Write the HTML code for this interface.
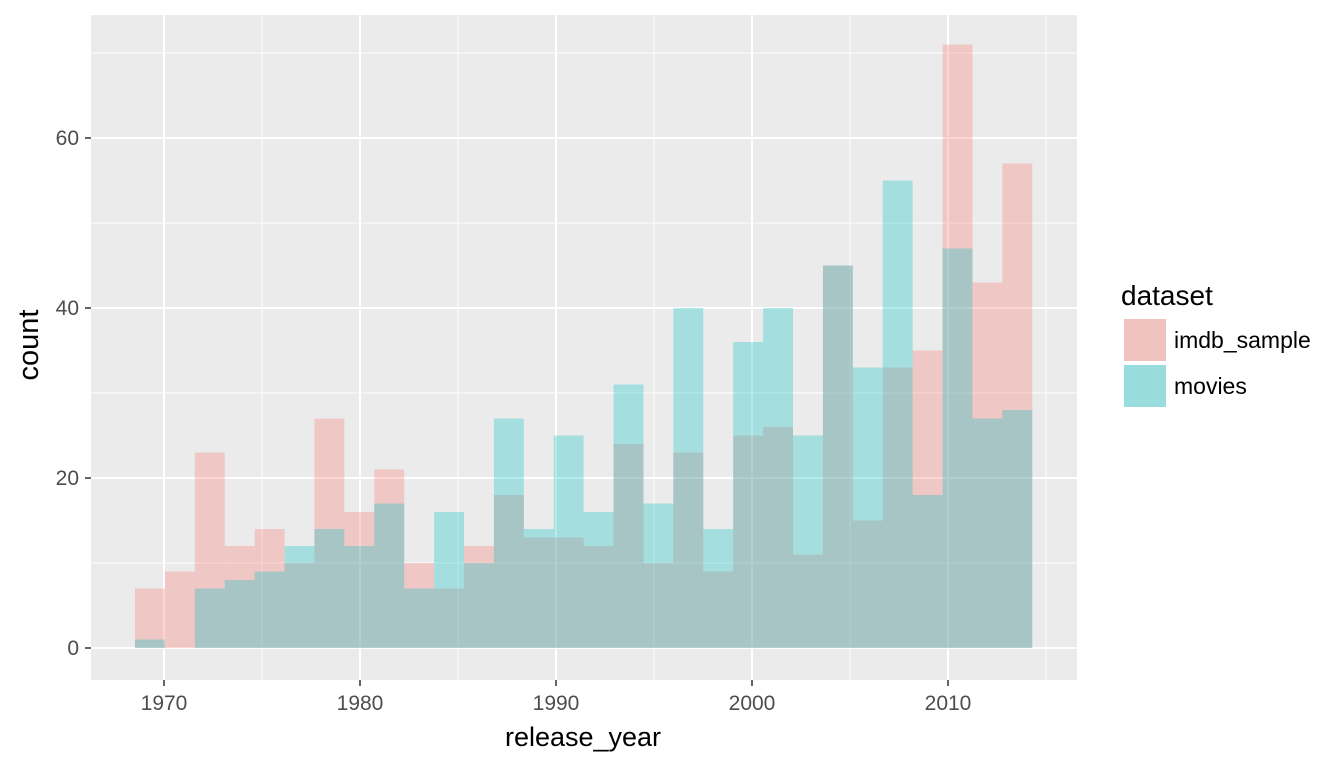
<!DOCTYPE html>
<html><head><meta charset="utf-8"><style>
body{margin:0;background:#fff;font-family:"Liberation Sans",sans-serif;}
svg text{font-family:"Liberation Sans",sans-serif;}
</style></head><body>
<svg id="chart" width="1344" height="768" xmlns="http://www.w3.org/2000/svg">
<rect x="91" y="15" width="986" height="665" fill="#EBEBEB"/>
<g id="grid"></g>
<g id="bars"></g>
<g id="axes"></g>
<text x="583" y="746" font-size="27" text-anchor="middle" fill="#000">release_year</text>
<text transform="translate(38,345) rotate(-90)" font-size="29" text-anchor="middle" fill="#000">count</text>
<g>
<text x="1121" y="305" font-size="28" fill="#000">dataset</text>
<rect x="1124" y="319" width="42" height="42" fill="#EBEBEB"/>
<rect x="1124" y="319" width="42" height="42" fill="#F8766D" fill-opacity="0.35"/>
<text x="1174" y="348" font-size="23" fill="#000">imdb_sample</text>
<rect x="1124" y="365" width="42" height="42" fill="#EBEBEB"/>
<rect x="1124" y="365" width="42" height="42" fill="#00BFC4" fill-opacity="0.35"/>
<text x="1174" y="394" font-size="23" fill="#000">movies</text>
</g>
</svg>
<script>
const binStart = 1968.52;
const binWidth = 1.526;
const imdbCounts = [7,9,23,12,14,10,27,16,21,10,7,12,18,13,13,12,24,10,23,9,25,26,11,45,15,33,35,71,43,57];
const moviesCounts = [1,0,7,8,9,12,14,12,17,7,16,10,27,14,25,16,31,17,40,14,36,40,25,45,33,55,18,47,27,28];
const xTicks = [1970,1980,1990,2000,2010];
const yTicks = [0,20,40,60];
const NS="http://www.w3.org/2000/svg";
const xs = v => 164 + (v-1970)*19.6;
const ys = v => 648 - v*8.5;
function mk(tag, attrs, parent){const e=document.createElementNS(NS,tag);for(const k in attrs)e.setAttribute(k,attrs[k]);parent.appendChild(e);return e;}
const grid=document.getElementById('grid'), bars=document.getElementById('bars'), axes=document.getElementById('axes');
for(let v=-10; v<=80; v+=10){const y=ys(v); if(y<15||y>680) continue;
  const l=mk('line',{x1:91,x2:1077,y1:y,y2:y,stroke:'#fff','stroke-width':v%20===0?2:1},grid);
  
  }
for(let v=1960; v<=2020; v+=5){const x=xs(v); if(x<91||x>1077) continue;
  const l=mk('line',{x1:x,x2:x,y1:15,y2:680,stroke:'#fff','stroke-width':v%10===0?2:1},grid);
  
  }
function drawSeries(counts,color,name){
  counts.forEach((c,i)=>{const x0=xs(binStart+i*binWidth), x1=xs(binStart+(i+1)*binWidth);
    const r=mk('rect',{x:x0,y:ys(c),width:x1-x0,height:ys(0)-ys(c),fill:color,'fill-opacity':0.3},bars);
    
    });
}
drawSeries(imdbCounts,'#F8766D','imdb-sample');
drawSeries(moviesCounts,'#00BFC4','movies');
yTicks.forEach(v=>{const y=ys(v);
  mk('line',{x1:85,x2:91,y1:y,y2:y,stroke:'#333','stroke-width':1.5},axes);
  const t=mk('text',{x:79,y:y+7,'font-size':21,fill:'#4D4D4D','text-anchor':'end'},axes);t.textContent=v;
  
  });
xTicks.forEach(v=>{const x=xs(v);
  mk('line',{x1:x,x2:x,y1:680,y2:686,stroke:'#333','stroke-width':1.5},axes);
  const t=mk('text',{x:x,y:710,'font-size':21,fill:'#4D4D4D','text-anchor':'middle'},axes);t.textContent=v;
  
  });
</script>
</body></html>
